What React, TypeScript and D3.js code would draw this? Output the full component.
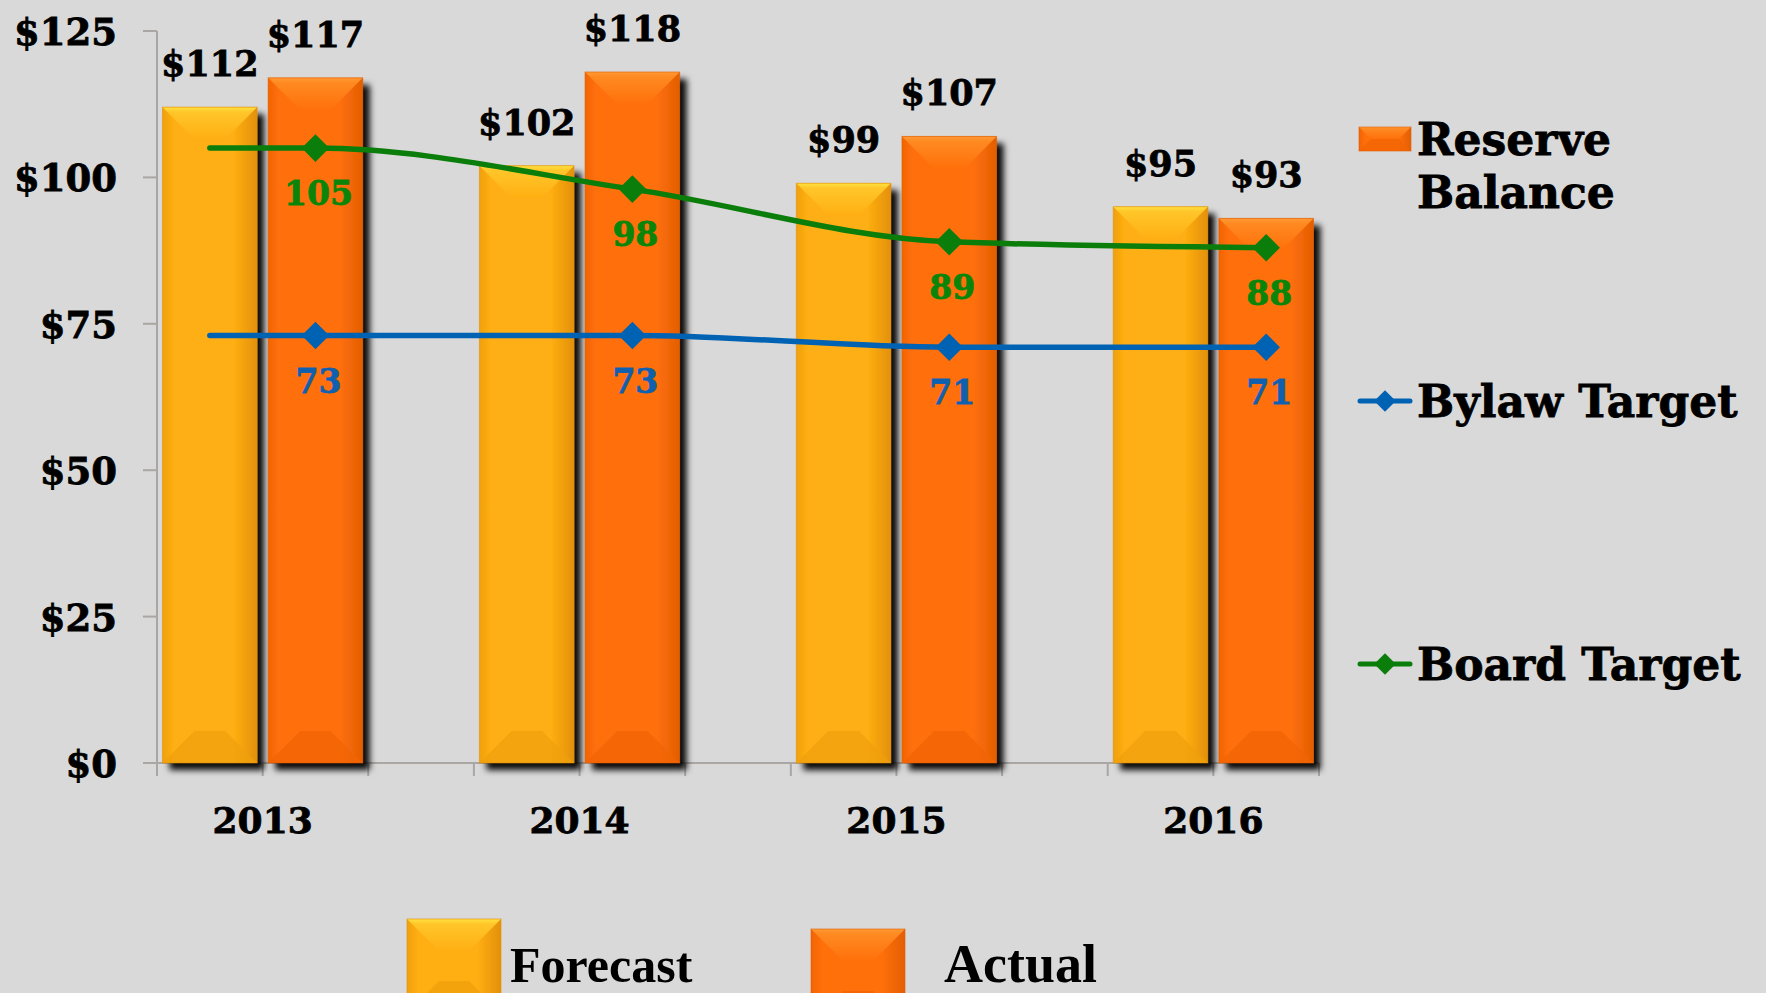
import { useMemo } from 'react';
import * as d3 from 'd3';

const years = ['2013', '2014', '2015', '2016'];
const forecast = [112, 102, 99, 95];
const actual = [117, 118, 107, 93];
const bylawTarget = [73, 73, 71, 71];
const boardTarget = [105, 98, 89, 88];
const yTicks = [0, 25, 50, 75, 100, 125];

const W = 1766;
const H = 993;
const PLOT = { left: 157, right: 1319, top: 31, bottom: 763 };
const SERIF = '"DejaVu Serif", "Liberation Serif", serif';
const BAR_INSET = 5.5;
const BEVEL = 32;

const FC = { body: '#FFAF12', light: '#FFC62A', edge: '#FFE23E', dark: '#EFA00C', side: '#E3900A' };
const AC = { body: '#FF700A', light: '#FF8A22', edge: '#FF9A34', dark: '#F26404', side: '#E35E04' };
const BLUE = '#0062B2';
const GREEN = '#0A7D0A';

type Pal = typeof FC;

// one slot per bar, with an empty slot between the years
const slots: string[] = [];
years.forEach((yr, i) => {
  slots.push(`${yr}|F`, `${yr}|A`);
  if (i < years.length - 1) slots.push(`gap${i}`);
});

function BevelBar({ x, y, w, h, pal, id, shadow = true }: { x: number; y: number; w: number; h: number; pal: Pal; id: string; shadow?: boolean }) {
  const b = Math.min(BEVEL, w / 2, h / 2);
  return (
    <g>
      <rect x={x} y={y} width={w} height={h} fill={`url(#${id}-body)`} filter={shadow ? 'url(#barShadow)' : undefined} />
      <polygon points={`${x},${y} ${x + w},${y} ${x + w - b},${y + b} ${x + b},${y + b}`} fill={`url(#${id}-top)`} />
      <polygon points={`${x},${y + h} ${x + w},${y + h} ${x + w - b},${y + h - b} ${x + b},${y + h - b}`} fill={pal.dark} opacity={0.75} />
      <rect x={x} y={y} width={w} height={h} fill="none" stroke={pal.side} strokeWidth={1} strokeOpacity={0.6} />
    </g>
  );
}

function Gradients({ id, pal }: { id: string; pal: Pal }) {
  return (
    <>
      <linearGradient id={`${id}-body`} x1="0" x2="1" y1="0" y2="0">
        <stop offset="0" stopColor={pal.dark} />
        <stop offset="0.12" stopColor={pal.body} />
        <stop offset="0.75" stopColor={pal.body} />
        <stop offset="1" stopColor={pal.side} />
      </linearGradient>
      <linearGradient id={`${id}-top`} x1="0" x2="0" y1="0" y2="1">
        <stop offset="0" stopColor={pal.edge} />
        <stop offset="0.15" stopColor={pal.light} />
        <stop offset="1" stopColor={pal.body} />
      </linearGradient>
    </>
  );
}

export default function App() {
  const x = useMemo(() => d3.scaleBand<string>().domain(slots).range([PLOT.left, PLOT.right]).padding(0), []);
  const y = useMemo(() => d3.scaleLinear().domain([0, 125]).range([PLOT.bottom, PLOT.top]), []);
  const bw = x.bandwidth();
  const cx = (s: string) => (x(s) as number) + bw / 2;

  const linePts = (vals: number[]) => [
    { s: `${years[0]}|F`, v: vals[0], marker: false },
    ...years.map((yr, i) => ({ s: `${yr}|A`, v: vals[i], marker: true })),
  ];
  const line = d3
    .line<{ s: string; v: number }>()
    .x((d) => cx(d.s))
    .y((d) => y(d.v))
    .curve(d3.curveMonotoneX);
  const diamond = d3.symbol().type(d3.symbolSquare).size(380)();
  const legDiamond = d3.symbol().type(d3.symbolSquare).size(230)();

  const lineSeries = [
    { name: 'Bylaw Target', vals: bylawTarget, color: BLUE, label: '#1060B0' },
    { name: 'Board Target', vals: boardTarget, color: GREEN, label: '#0A850A' },
  ];

  const tickXs = d3.range(slots.length + 1).map((i) => PLOT.left + i * bw);
  const heavy = { fontFamily: SERIF, fontWeight: 'bold' as const, strokeWidth: 0.8 };

  return (
    <div style={{ position: 'absolute', left: 0, top: 0, width: W, height: H, background: '#d9d9d9' }}>
      <svg width={W} height={H} viewBox={`0 0 ${W} ${H}`} style={{ display: 'block' }}>
        <defs>
          <filter id="barShadow" x="-20%" y="-10%" width="150%" height="130%">
            <feDropShadow dx="7" dy="7" stdDeviation="3" floodColor="#000" floodOpacity="0.95" />
          </filter>
          <Gradients id="fc" pal={FC} />
          <Gradients id="ac" pal={AC} />
        </defs>
        <rect width={W} height={H} fill="#d9d9d9" />

        {/* axes */}
        <g stroke="#a9a6a3" strokeWidth={2} fill="none">
          <line x1={PLOT.left} x2={PLOT.left} y1={y(125)} y2={y(0)} />
          {yTicks.map((t) => (
            <line key={t} x1={PLOT.left - 14} x2={PLOT.left} y1={y(t)} y2={y(t)} />
          ))}
          <line x1={PLOT.left - 14} x2={PLOT.right} y1={y(0)} y2={y(0)} />
          {tickXs.map((tx, i) => (
            <line key={i} x1={tx} x2={tx} y1={y(0)} y2={y(0) + 13} />
          ))}
        </g>
        {yTicks.map((t) => (
          <text key={t} x={117} y={y(t)} dy="0.38em" textAnchor="end" {...heavy} fontSize={37} fill="#000" stroke="#000">
            ${t}
          </text>
        ))}
        {years.map((yr) => (
          <text key={yr} x={x(`${yr}|A`) as number} y={833} textAnchor="middle" {...heavy} fontSize={36} fill="#000" stroke="#000">
            {yr}
          </text>
        ))}

        {/* bars */}
        {years.map((yr, i) => (
          <g key={yr}>
            {[
              { s: `${yr}|F`, v: forecast[i], pal: FC, id: 'fc' },
              { s: `${yr}|A`, v: actual[i], pal: AC, id: 'ac' },
            ].map((b) => (
              <g key={b.s}>
                <BevelBar x={(x(b.s) as number) + BAR_INSET} y={y(b.v)} w={bw - 2 * BAR_INSET} h={y(0) - y(b.v)} pal={b.pal} id={b.id} />
                <text x={cx(b.s)} y={y(b.v) - 31} textAnchor="middle" {...heavy} fontSize={35} fill="#000" stroke="#000">
                  ${b.v}
                </text>
              </g>
            ))}
          </g>
        ))}

        {/* target lines */}
        {lineSeries.map((ls) => {
          const pts = linePts(ls.vals);
          return (
            <g key={ls.name}>
              <path d={line(pts) ?? ''} fill="none" stroke={ls.color} strokeWidth={5.5} strokeLinecap="round" />
              {pts
                .filter((p) => p.marker)
                .map((p) => (
                  <g key={p.s}>
                    <path d={diamond ?? ''} transform={`translate(${cx(p.s)},${y(p.v)}) rotate(45)`} fill={ls.color} />
                    <text x={cx(p.s) + 3} y={y(p.v) + 57} textAnchor="middle" {...heavy} fontSize={33} fill={ls.label} stroke={ls.label}>
                      {p.v}
                    </text>
                  </g>
                ))}
            </g>
          );
        })}

        {/* right legend */}
        <BevelBar x={1359} y={127} w={52} h={24} pal={AC} id="ac" shadow={false} />
        <text x={1417} y={155} {...heavy} fontSize={44} fill="#000" stroke="#000">Reserve</text>
        <text x={1417} y={208} {...heavy} fontSize={44} fill="#000" stroke="#000">Balance</text>
        {lineSeries.map((ls, i) => {
          const ly = i === 0 ? 401 : 664;
          return (
            <g key={ls.name}>
              <line x1={1360} x2={1410} y1={ly} y2={ly} stroke={ls.color} strokeWidth={5} strokeLinecap="round" />
              <path d={legDiamond ?? ''} transform={`translate(1385,${ly}) rotate(45)`} fill={ls.color} />
              <text x={1417} y={ly + 16} {...heavy} fontSize={44} fill="#000" stroke="#000">
                {ls.name}
              </text>
            </g>
          );
        })}

        {/* bottom legend */}
        <BevelBar x={407} y={919} w={94} h={94} pal={FC} id="fc" shadow={false} />
        <text x={510} y={982} fontFamily='"Liberation Serif", serif' fontWeight="bold" fontSize={50} fill="#000">Forecast</text>
        <BevelBar x={811} y={929} w={94} h={94} pal={AC} id="ac" shadow={false} />
        <text x={944} y={982} fontFamily='"Liberation Serif", serif' fontWeight="bold" fontSize={54} fill="#000">Actual</text>
      </svg>
    </div>
  );
}
